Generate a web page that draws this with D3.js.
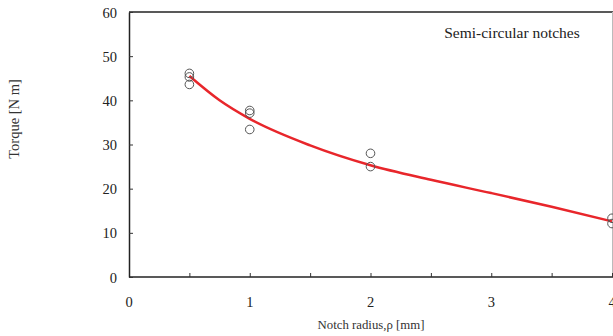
<!DOCTYPE html>
<html><head><meta charset="utf-8">
<script src="https://cdn.jsdelivr.net/npm/d3@7"></script>
<style>body{margin:0;background:#fff}svg{display:block}</style>
</head><body>
<svg id="c" width="613" height="336"></svg>
<script>
const xTicks = [0, 0.5, 1, 1.5, 2, 2.5, 3, 3.5, 4];
const xLabels = [0, 1, 2, 3, 4];
const yTicks = [0, 10, 20, 30, 40, 50, 60];
const pointRadius = [0.5, 0.5, 0.5, 1, 1, 1, 2, 2, 4, 4];
const pointTorque = [46.1, 45.3, 43.6, 37.7, 37.1, 33.4, 28.0, 25.0, 13.3, 12.1];
const fitRadius = [0.5, 0.75, 1, 1.5, 2, 2.5, 3, 3.5, 4];
const fitTorque = [45.5, 40.0, 35.8, 29.8, 25.3, 22.0, 19.0, 15.9, 12.6];

const svg = d3.select("#c");
const x = d3.scaleLinear().domain([0, 4]).range([129, 612]);
const y = d3.scaleLinear().domain([0, 60]).range([277, 12]);
const font = "'Liberation Serif','Times New Roman',serif";

// frame
svg.append("line").attr("x1", x(0)).attr("x2", 613).attr("y1", y(60)).attr("y2", y(60)).attr("stroke", "#222").attr("stroke-width", 1.3);
svg.append("line").attr("x1", x(4)+0.5).attr("x2", x(4)+0.5).attr("y1", y(60)).attr("y2", y(0)).attr("stroke", "#bbb").attr("stroke-width", 1);

const xAxis = svg.append("g").attr("transform", `translate(0,${y(0)})`)
  .call(d3.axisBottom(x).tickValues(xTicks).tickSizeInner(-4).tickSizeOuter(0).tickFormat(""));
xAxis.select(".domain").attr("stroke", "#222").attr("stroke-width", 1.5).attr("d", `M${x(0)},0H613`);
xAxis.selectAll(".tick line").attr("stroke", "#333");
svg.append("g").selectAll("text").data(xLabels).join("text")
  .attr("x", d => x(d)).attr("y", 307).attr("text-anchor", "middle")
  .attr("font-family", font).attr("font-size", 14.5).attr("fill", "#222").text(d => d);

const yAxis = svg.append("g").attr("transform", `translate(${x(0)},0)`)
  .call(d3.axisLeft(y).tickValues(yTicks).tickSizeInner(-4).tickSizeOuter(0).tickPadding(12));
yAxis.select(".domain").attr("stroke", "#222").attr("stroke-width", 1.5);
yAxis.selectAll(".tick line").attr("stroke", "#333");
yAxis.selectAll(".tick text").attr("font-family", font).attr("font-size", 14.5).attr("fill", "#222").attr("dy", "0.35em");

// fit curve
const line = d3.line().x((d, i) => x(fitRadius[i])).y(d => y(d)).curve(d3.curveMonotoneX);
svg.append("path").attr("d", line(fitTorque)).attr("fill", "none").attr("stroke", "#e8262b").attr("stroke-width", 2.5);

// points
svg.append("g").selectAll("circle").data(pointTorque).join("circle")
  .attr("cx", (d, i) => x(pointRadius[i])).attr("cy", d => y(d)).attr("r", 4.3)
  .attr("fill", "none").attr("stroke", "#555").attr("stroke-width", 1);

// texts
svg.append("text").attr("x", 512).attr("y", 38).attr("text-anchor", "middle")
  .attr("font-family", font).attr("font-size", 15.5).attr("fill", "#222").text("Semi-circular notches");
svg.append("text").attr("transform", "translate(19,119) rotate(-90)").attr("text-anchor", "middle")
  .attr("font-family", font).attr("font-size", 14.5).attr("fill", "#333").text("Torque [N m]");
svg.append("text").attr("x", 371).attr("y", 329).attr("text-anchor", "middle")
  .attr("font-family", font).attr("font-size", 12.8).attr("fill", "#333").text("Notch radius,ρ [mm]");
</script>
</body></html>
